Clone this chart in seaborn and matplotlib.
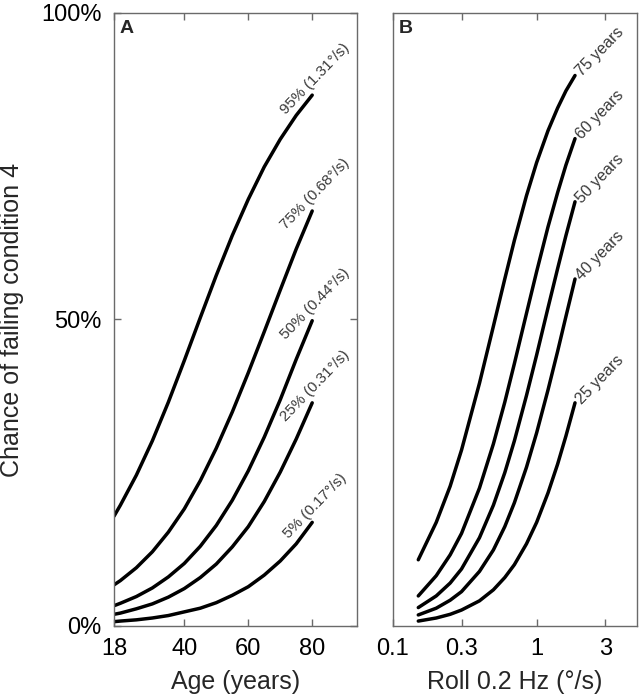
import numpy as np
import pandas as pd
import matplotlib
matplotlib.use('Agg')
import matplotlib.pyplot as plt
import seaborn as sns

# ---- data ----
ages = [18, 20, 25, 30, 35, 40, 45, 50, 55, 60, 65, 70, 75, 80]
a_labels = ['95% (1.31°/s)', '75% (0.68°/s)', '50% (0.44°/s)', '25% (0.31°/s)', '5% (0.17°/s)']
p95 = [17.9, 19.7, 24.6, 30.2, 36.5, 43.3, 50.3, 57.2, 63.7, 69.6, 74.9, 79.4, 83.3, 86.6]
p75 = [6.7, 7.4, 9.5, 12.1, 15.3, 19.1, 23.7, 29.0, 34.9, 41.3, 48.0, 54.8, 61.5, 67.7]
p50 = [3.3, 3.7, 4.8, 6.2, 8.0, 10.2, 13.0, 16.4, 20.5, 25.3, 30.8, 36.9, 43.5, 49.8]
p25 = [1.9, 2.1, 2.8, 3.6, 4.7, 6.1, 7.9, 10.1, 12.9, 16.2, 20.3, 25.1, 30.5, 36.4]
p5 = [0.7, 0.8, 1.0, 1.3, 1.7, 2.3, 2.9, 3.8, 5.0, 6.4, 8.3, 10.6, 13.4, 16.9]

roll = [0.15, 0.2, 0.25, 0.3, 0.4, 0.5, 0.6, 0.7, 0.85, 1.0, 1.2, 1.4, 1.6, 1.85]
b_labels = ['75 years', '60 years', '50 years', '40 years', '25 years']
y75 = [10.8, 16.9, 22.8, 28.7, 39.6, 48.9, 56.6, 62.9, 70.2, 75.6, 80.8, 84.5, 87.3, 89.8]
y60 = [4.9, 8.2, 11.6, 15.1, 22.5, 29.7, 36.5, 42.8, 51.0, 57.8, 65.1, 70.7, 75.2, 79.5]
y50 = [3.0, 4.9, 7.0, 9.3, 14.4, 19.7, 25.0, 30.2, 37.6, 44.2, 51.9, 58.3, 63.7, 69.2]
y40 = [1.8, 2.9, 4.2, 5.6, 8.9, 12.4, 16.2, 20.1, 25.9, 31.5, 38.5, 44.8, 50.5, 56.6]
y25 = [0.8, 1.3, 1.9, 2.6, 4.1, 5.9, 7.9, 10.0, 13.4, 16.9, 21.7, 26.4, 31.0, 36.4]

a_ticks = [18, 40, 60, 80]
b_ticks = [0.1, 0.3, 1, 3]
b_ticklabels = ['0.1', '0.3', '1', '3']
y_ticks = [0, 50, 100]
y_ticklabels = ['0%', '50%', '100%']

sns.set_theme(style='ticks')
plt.rcParams['font.family'] = ['Liberation Sans', 'DejaVu Sans']

spine_col = '#6a6a6a'


def long_frame(x, series, labels, xname):
    rows = []
    for lab, ys in zip(labels, series):
        for xv, yv in zip(x, ys):
            rows.append({xname: xv, 'p': yv, 'curve': lab})
    return pd.DataFrame(rows)


def style_axes(ax):
    for s in ax.spines.values():
        s.set_color(spine_col)
        s.set_linewidth(1.0)
    ax.tick_params(which='both', direction='in', top=True, right=True,
                   length=5, width=1.0, color=spine_col, labelsize=17,
                   labelcolor='black', pad=9)
    ax.tick_params(which='minor', length=0)
    ax.set_xlabel('')
    ax.set_ylabel('')


fig = plt.figure(figsize=(6.41, 6.98), dpi=100)
axA = fig.add_axes([0.1778, 0.1032, 0.3791, 0.8782])
axB = fig.add_axes([0.6131, 0.1032, 0.3807, 0.8782])

# panel A
dfA = long_frame(ages, [p95, p75, p50, p25, p5], a_labels, 'age')
sns.lineplot(data=dfA, x='age', y='p', hue='curve', hue_order=a_labels,
             palette=['black'] * 5, legend=False, lw=2.5, ax=axA, estimator=None)
axA.set_xlim(18, 94)
axA.set_ylim(0, 100)
axA.set_xticks(a_ticks)
axA.set_yticks(y_ticks)
axA.set_yticklabels(y_ticklabels)
style_axes(axA)
for lab, ys in zip(a_labels, [p95, p75, p50, p25, p5]):
    axA.annotate(lab, (ages[-1], ys[-1]), xytext=(6.0, 8.5), textcoords='offset points',
                 ha='center', va='bottom', rotation=46, rotation_mode='anchor',
                 fontsize=11, color='#3a3a3a')
axA.text(0.022, 0.988, 'A', transform=axA.transAxes, fontsize=14, fontweight='bold',
         ha='left', va='top')

# panel B
dfB = long_frame(roll, [y75, y60, y50, y40, y25], b_labels, 'roll')
sns.lineplot(data=dfB, x='roll', y='p', hue='curve', hue_order=b_labels,
             palette=['black'] * 5, legend=False, lw=2.5, ax=axB, estimator=None)
axB.set_xscale('log')
axB.set_xlim(0.1, 5)
axB.set_ylim(0, 100)
axB.set_xticks(b_ticks)
axB.set_xticklabels(b_ticklabels)
axB.set_yticks([])
style_axes(axB)
for lab, ys in zip(b_labels, [y75, y60, y50, y40, y25]):
    axB.annotate(lab, (roll[-1], ys[-1]), xytext=(2.5, 1.0), textcoords='offset points',
                 ha='left', va='center', rotation=46, rotation_mode='anchor',
                 fontsize=11.5, color='#3a3a3a')
axB.text(0.022, 0.988, 'B', transform=axB.transAxes, fontsize=14, fontweight='bold',
         ha='left', va='top')

fig.text(12 / 641, 1 - 319.5 / 698, 'Chance of failing condition 4', rotation=90,
         ha='center', va='center', fontsize=18)
fig.text(235.5 / 641, 1 - 682 / 698, 'Age (years)', ha='center', va='center', fontsize=18)
fig.text(515 / 641, 1 - 682 / 698, 'Roll 0.2 Hz (°/s)', ha='center', va='center', fontsize=18)

fig.savefig('out.png', dpi=100, facecolor='white')
